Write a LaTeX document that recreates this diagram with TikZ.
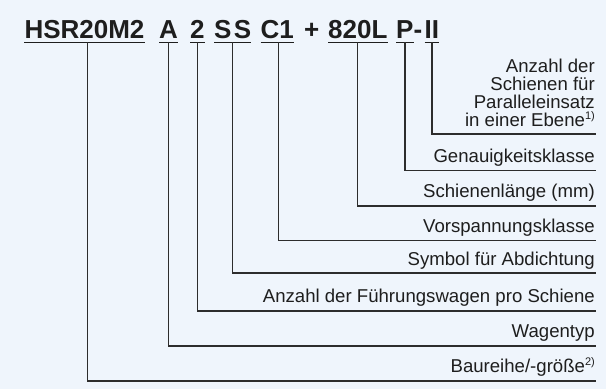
\documentclass[tikz,border=0pt]{standalone}
\usepackage{fontspec}
\setmainfont{Liberation Sans}
\definecolor{bg}{RGB}{239,245,252}
\definecolor{ink}{RGB}{30,30,30}
\definecolor{ln}{RGB}{45,45,45}
\newcommand{\supmark}[1]{\raisebox{6.5pt}{\fontsize{11}{11}\selectfont #1}}
\begin{document}
\begin{tikzpicture}[x=1pt,y=-1pt,
  tok/.style={anchor=base west,inner sep=0pt,font=\fontsize{26}{26}\selectfont\bfseries,text=ink},
  lbl/.style={anchor=base east,inner sep=0pt,font=\fontsize{18.6}{18}\selectfont,text=ink,align=right},
  lead/.style={draw=ln,line width=1.3pt},
  uline/.style={draw=ink,line width=1.6pt}]
\fill[bg] (0,0) rectangle (606,389);
\useasboundingbox (0,0) rectangle (606,389);
% title tokens
\node[tok] (t1) at (24.3,38.3) {HSR20M2};
\node[tok] (t2) at (159,38.3) {A};
\node[tok] (t3) at (190,38.3) {2};
\node[tok] (t4) at (214,38.3) {S\kern2.3pt S};
\node[tok] (t5) at (260.5,38.3) {C1};
\node[tok] (plus) at (304,38.3) {+};
\node[tok] (t6) at (328,38.3) {820L};
\node[tok] (t7) at (396,38.3) {P};
\node[tok] (dash) at (413.3,38.3) {-};
\node[tok] (t8) at (424.5,38.3) {II};
\foreach \t in {t1,t2,t3,t4,t5,t6,t7,t8}
  \draw[uline] ([yshift=-4pt]\t.base west) -- ([yshift=-4pt]\t.base east);
% labels
\node[lbl] (l8) at (595,126) {Anzahl der\\Schienen für\\Paralleleinsatz\\in einer Ebene\supmark{1)}};
\node[lbl] (l7) at (595,162) {Genauigkeitsklasse};
\node[lbl] (l6) at (595,197.5) {Schienenlänge (mm)};
\node[lbl] (l5) at (595,232) {Vorspannungsklasse};
\node[lbl] (l4) at (595,265) {Symbol für Abdichtung};
\node[lbl] (l3) at (595,302.5) {Anzahl der Führungswagen pro Schiene};
\node[lbl] (l2) at (595,337) {Wagentyp};
\node[lbl] (l1) at (595,372) {Baureihe/-größe\supmark{2)}};
% line ends
\coordinate (e8) at (595.5,134);
\coordinate (e7) at (595.5,170.5);
\coordinate (e6) at (595.5,206);
\coordinate (e5) at (595.5,240.5);
\coordinate (e4) at (595.5,273);
\coordinate (e3) at (595.5,311);
\coordinate (e2) at (595.5,346);
\coordinate (e1) at (595.5,381);
% leads
\draw[lead] ([xshift=2.7pt,yshift=-4pt]t1.base) |- (e1);
\draw[lead] ([yshift=-4pt]t2.base) |- (e2);
\draw[lead] ([yshift=-4pt]t3.base) |- (e3);
\draw[lead] ([yshift=-4pt]t4.base) |- (e4);
\draw[lead] ([xshift=1pt,yshift=-4pt]t5.base) |- (e5);
\draw[lead] ([yshift=-4pt]t6.base) |- (e6);
\draw[lead] ([yshift=-4pt]t7.base) |- (e7);
\draw[lead] ([yshift=-4pt]t8.base) |- (e8);
\end{tikzpicture}
\end{document}
